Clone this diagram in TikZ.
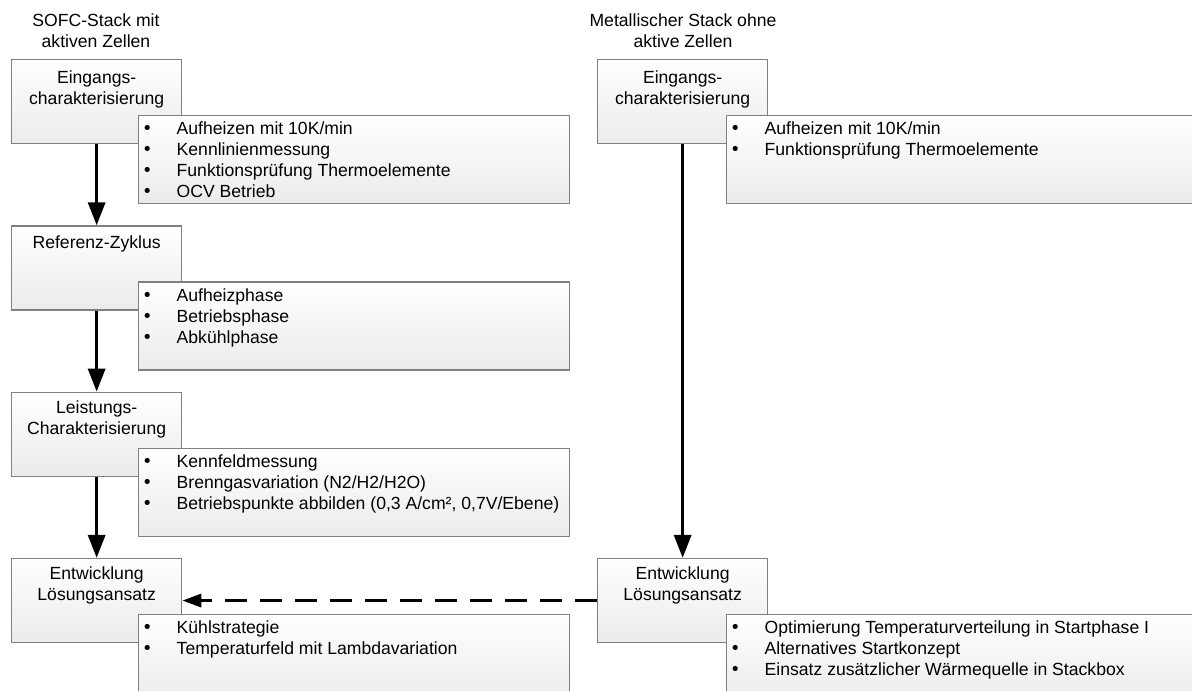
\documentclass[tikz,border=0pt]{standalone}
\usepackage{fontspec}
\setmainfont{Liberation Sans}
\newfontfamily\bulletfont{DejaVu Sans}
\usetikzlibrary{arrows.meta}
\definecolor{boxborder}{HTML}{808080}
\definecolor{boxshade}{HTML}{EBEBEB}
% one bullet line of a detail list
\newcommand\listline[1]{\makebox[34.5pt][l]{\bulletfont\symbol{"2022}}#1}
\begin{document}
\begin{tikzpicture}[x=1pt,y=-1pt,
  every node/.style={font=\fontsize{17.6}{21}\selectfont, inner sep=0pt},
  stagebox/.style={draw=boxborder, line width=1.3pt, top color=white, bottom color=boxshade,
    anchor=north west, minimum width=170pt, minimum height=84pt},
  detailbox/.style={draw=boxborder, line width=1.3pt, top color=white, bottom color=boxshade,
    anchor=north west, minimum height=88pt},
  stagetext/.style={anchor=north, align=center},
  listtext/.style={anchor=north west, align=left},
  flow/.style={line width=3.3pt, -{Triangle[length=23pt,width=17pt]}},
  transfer/.style={line width=3.3pt, dash pattern=on 22pt off 13pt, -{Triangle[length=19pt,width=13pt]}}
]
\useasboundingbox (0,0) rectangle (1192,691);
\clip (0,0) rectangle (1192,691);

% column headings
\node[stagetext] (hl) at (96,14) {SOFC-Stack mit\\aktiven Zellen};
\node[stagetext] (hr) at (683,14) {Metallischer Stack ohne\\aktive Zellen};

% left column: stages
\node[stagebox] (s1) at (11,59) {};
\node[stagebox] (s2) at (11,225.3) {};
\node[stagebox] (s3) at (11,391.6) {};
\node[stagebox] (s4) at (11,557.9) {};
% right column: stages
\node[stagebox] (r1) at (597,59) {};
\node[stagebox] (r4) at (597,557.9) {};

\node[stagetext] (s1t) at ([yshift=-12pt]s1.north) {Eingangs-\\charakterisierung};
\node[stagetext] (s2t) at ([yshift=-10pt]s2.north) {Referenz-Zyklus};
\node[stagetext] (s3t) at ([yshift=-9pt]s3.north) {Leistungs-\\Charakterisierung};
\node[stagetext] (s4t) at ([yshift=-9pt]s4.north) {Entwicklung\\Lösungsansatz};
\node[stagetext] (r1t) at ([yshift=-12pt]r1.north) {Eingangs-\\charakterisierung};
\node[stagetext] (r4t) at ([yshift=-9pt]r4.north) {Entwicklung\\Lösungsansatz};

% arrows between stages
\draw[flow] (s1.south) -- (s2.north);
\draw[flow] (s2.south) -- (s3.north);
\draw[flow] (s3.south) -- (s4.north);
\draw[flow] (r1.south) -- (r4.north);
\draw[transfer] (r4.west) -- (s4.east);

% detail lists, left column
\node[detailbox, minimum width=431pt] (d1) at (138,115) {};
\node[detailbox, minimum width=431pt] (d2) at (138,281.3) {};
\node[detailbox, minimum width=431pt] (d3) at (138,447.6) {};
\node[detailbox, minimum width=431pt] (d4) at (138,613.9) {};
% detail lists, right column
\node[detailbox, minimum width=500pt] (e1) at (726,115) {};
\node[detailbox, minimum width=500pt] (e4) at (726,613.9) {};

\node[listtext] (d1t) at ([xshift=4pt,yshift=-7pt]d1.north west)
  {\listline{Aufheizen mit 10K/min}\\\listline{Kennlinienmessung}\\\listline{Funktionsprüfung Thermoelemente}\\\listline{OCV Betrieb}};
\node[listtext] (d2t) at ([xshift=4pt,yshift=-7pt]d2.north west)
  {\listline{Aufheizphase}\\\listline{Betriebsphase}\\\listline{Abkühlphase}};
\node[listtext] (d3t) at ([xshift=4pt,yshift=-7pt]d3.north west)
  {\listline{Kennfeldmessung}\\\listline{Brenngasvariation (N2/H2/H2O)}\\\listline{Betriebspunkte abbilden (0,3 A/cm², 0,7V/Ebene)}};
\node[listtext] (d4t) at ([xshift=4pt,yshift=-7pt]d4.north west)
  {\listline{Kühlstrategie}\\\listline{Temperaturfeld mit Lambdavariation}};
\node[listtext] (e1t) at ([xshift=4pt,yshift=-7pt]e1.north west)
  {\listline{Aufheizen mit 10K/min}\\\listline{Funktionsprüfung Thermoelemente}};
\node[listtext] (e4t) at ([xshift=4pt,yshift=-7pt]e4.north west)
  {\listline{Optimierung Temperaturverteilung in Startphase I}\\\listline{Alternatives Startkonzept}\\\listline{Einsatz zusätzlicher Wärmequelle in Stackbox}};
\end{tikzpicture}
\end{document}
